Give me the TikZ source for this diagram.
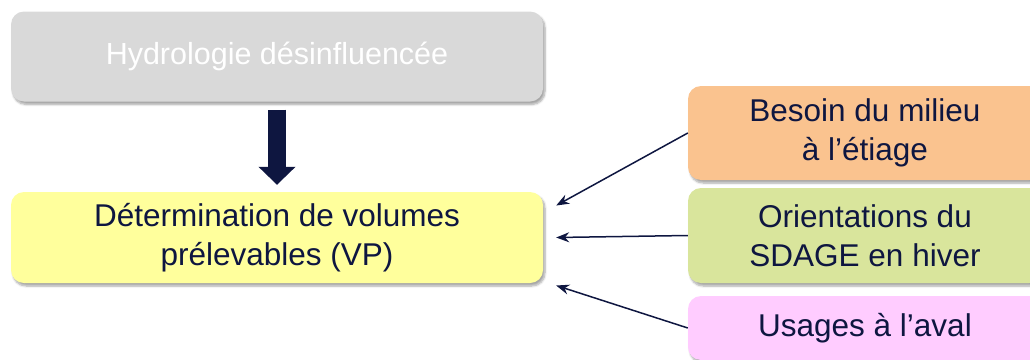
\documentclass[tikz,border=0pt]{standalone}
\usepackage{fontspec}
\setmainfont{Liberation Sans}
\usetikzlibrary{arrows.meta,shadows.blur}

\definecolor{navy}{HTML}{0E1640}
\definecolor{hydrogray}{HTML}{D9D9D9}
\definecolor{vpyellow}{HTML}{FFFF9C}
\definecolor{besoinorange}{HTML}{FAC38F}
\definecolor{sdagegreen}{HTML}{D9E59C}
\definecolor{usagepink}{HTML}{FFCCFF}

\tikzset{
  box/.style={rounded corners=13pt, inner sep=0pt, align=center, text=navy,
    font=\fontsize{31.5}{38.5}\selectfont,
    blur shadow={shadow xshift=2pt, shadow yshift=-3pt, shadow blur steps=6, shadow opacity=35}},
  thin arrow/.style={navy, line width=1.5pt, -{Stealth[length=13pt,width=10pt]}},
  big arrow/.style={navy, line width=18pt, -{Triangle[length=18pt,width=36pt]}}
}

\begin{document}
\begin{tikzpicture}[x=1pt,y=-1pt]
\useasboundingbox (0,0) rectangle (1030,359);
\begin{scope}
\clip (0,0) rectangle (1030,359);
% left column
\node[box, fill=hydrogray, text=white, minimum width=532pt, minimum height=90pt,
  font=\fontsize{30.5}{36}\selectfont] (hydro) at (277,56.5) {Hydrologie désinfluencée};
\node[box, fill=vpyellow, minimum width=532pt, minimum height=91pt] (vp) at (277,237.5)
  {Détermination de volumes\\prélevables (VP)};
% right column
\node[box, fill=besoinorange, minimum width=354pt, minimum height=94pt] (besoin) at (865,133)
  {Besoin du milieu\\à l’étiage};
\node[box, fill=sdagegreen, minimum width=354pt, minimum height=95pt] (sdage) at (865,235.5)
  {Orientations du\\SDAGE en hiver};
\node[box, fill=usagepink, minimum width=354pt, minimum height=64pt] (usages) at (865,328)
  {Usages à l’aval};
\end{scope}

\draw[big arrow, shorten <=8pt, shorten >=7pt] (hydro.south) -- (vp.north);

\draw[thin arrow] (besoin.west) -- ([shift={(13pt,32pt)}]vp.east);
\draw[thin arrow] (sdage.west) -- ([shift={(13pt,0pt)}]vp.east);
\draw[thin arrow] (usages.west) -- ([shift={(13pt,-48pt)}]vp.east);
\end{tikzpicture}
\end{document}
